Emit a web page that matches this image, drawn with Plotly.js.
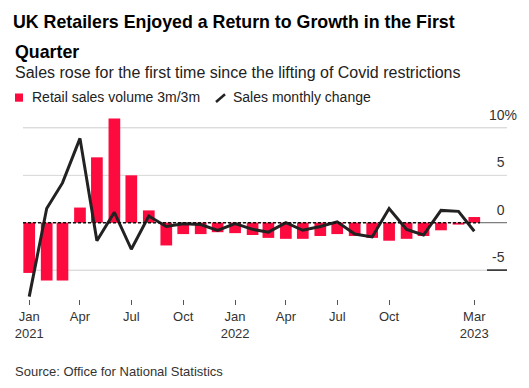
<!DOCTYPE html>
<html>
<head>
<meta charset="utf-8">
<script src="https://cdn.plot.ly/plotly-3.0.1.min.js"></script>
<style>html,body{margin:0;padding:0;background:#fff;}#chart{width:529px;height:388px;}</style>
</head>
<body>
<div id="chart"></div>
<script>
// ---- data ----
const months = [
  '2021-01-01','2021-02-01','2021-03-01','2021-04-01','2021-05-01','2021-06-01',
  '2021-07-01','2021-08-01','2021-09-01','2021-10-01','2021-11-01','2021-12-01',
  '2022-01-01','2022-02-01','2022-03-01','2022-04-01','2022-05-01','2022-06-01',
  '2022-07-01','2022-08-01','2022-09-01','2022-10-01','2022-11-01','2022-12-01',
  '2023-01-01','2023-02-01','2023-03-01'
];
const salesVolume3m3m = [
  -5.3, -6.1, -6.1, 1.6, 6.9, 11.0,
  5.0, 1.3, -2.4, -1.2, -1.2, -1.0,
  -1.1, -1.3, -1.6, -1.7, -1.7, -1.4,
  -1.2, -1.4, -1.6, -1.9, -1.7, -1.4,
  -0.8, -0.2, 0.6
];
const salesMonthlyChange = [
  -7.8, 1.5, 4.2, 8.9, -1.9, 1.1,
  -2.8, 0.7, -0.4, -0.1, -0.2, -0.8,
  -0.1, -0.7, -1.0, 0.0, -0.8, -0.4,
  0.1, -1.2, -1.5, 1.5, -0.7, -1.3,
  1.3, 1.2, -0.9
];
const xTickVals = ['2021-01-01','2021-04-01','2021-07-01','2021-10-01','2022-01-01','2022-04-01','2022-07-01','2022-10-01','2023-03-01'];
const xTickText = ['Jan<br>2021','Apr','Jul','Oct','Jan<br>2022','Apr','Jul','Oct','Mar<br>2023'];
const yTickVals = [-5, 0, 5, 10];
const yTickLabels = ['-5', '0', '5', '10'];
const seriesNames = ['Retail sales volume 3m/3m', 'Sales monthly change'];
const titleText = 'UK Retailers Enjoyed a Return to Growth in the First';
const titleText2 = 'Quarter';
const subtitleText = 'Sales rose for the first time since the lifting of Covid restrictions';
const sourceText = 'Source: Office for National Statistics';

// ---- layout helpers ----
const W = 529, H = 388;
const M = {l: 23, r: 22, t: 109, b: 89};
const PL = M.l, PR = W - M.r, PT = M.t, PB = H - M.b;
const px = x => (x - PL) / (PR - PL);
const py = y => (PB - y) / (PB - PT);
const FONT = 'Liberation Sans, Arial, sans-serif';
const RED = '#fd0a3f';
const INK = '#222222';

const yTickText = yTickLabels.map((t, i) =>
  yTickVals[i] === 10 ? t + '%' : t + "<span style='color:rgba(0,0,0,0)'>%</span>");

const traces = [
  {
    type: 'bar', x: months, y: salesVolume3m3m, name: seriesNames[0],
    marker: {color: RED, line: {width: 0}}, hoverinfo: 'x+y'
  },
  {
    type: 'scatter', mode: 'lines', x: months, y: salesMonthlyChange, name: seriesNames[1],
    line: {color: INK, width: 3}, hoverinfo: 'x+y'
  }
];

const annText = (text, x, y, size, color, extra) => Object.assign({
  text: text, xref: 'paper', yref: 'paper', x: px(x), y: py(y),
  xanchor: 'left', yanchor: 'middle', showarrow: false,
  font: {family: FONT, size: size, color: color}
}, extra || {});

// horizontal gridlines at the non-zero y ticks
const gridShapes = yTickVals.filter(v => v !== 0).map(v => ({
  type: 'line', xref: 'paper', yref: 'y', x0: 0, x1: 1, y0: v, y1: v,
  line: {color: '#dcdcdc', width: 1}, layer: 'below'
}));

const layout = {
  width: W, height: H,
  margin: M,
  paper_bgcolor: '#ffffff', plot_bgcolor: '#ffffff',
  showlegend: false,
  bargap: 0.26,
  title: {
    text: titleText,
    xref: 'container', yref: 'container',
    x: 13 / W, xanchor: 'left',
    y: 1 - 22 / H, yanchor: 'middle',
    font: {family: FONT, size: 17.8, color: '#000000', weight: 700}
  },
  xaxis: {
    type: 'date',
    range: ['2020-12-21', '2023-04-28'],
    tickmode: 'array', tickvals: xTickVals, ticktext: xTickText,
    ticks: 'outside', ticklen: 5, tickwidth: 1, tickcolor: '#555',
    showgrid: false, zeroline: false, showline: false,
    tickfont: {family: FONT, size: 13, color: '#333'}
  },
  yaxis: {
    range: [-8.05, 12],
    side: 'right',
    tickmode: 'array', tickvals: yTickVals, ticktext: yTickText,
    ticks: '', ticklabelposition: 'inside', ticklabeloverflow: 'allow',
    ticklabelstandoff: -13, ticklabelshift: -13,
    showgrid: true, gridcolor: '#dcdcdc', gridwidth: 1,
    zeroline: false, showline: false,
    tickfont: {family: FONT, size: 14, color: '#333'}
  },
  shapes: gridShapes.concat([
    {type: 'line', xref: 'paper', yref: 'y', x0: 0, x1: px(480), y0: 0, y1: 0,
     line: {color: '#111', width: 1.5, dash: '3px,2px'}, layer: 'above'},
    {type: 'line', xref: 'paper', yref: 'y', x0: px(480), x1: 1, y0: 0, y1: 0,
     line: {color: '#666', width: 1}, layer: 'above'},
    {type: 'line', xref: 'paper', yref: 'y', x0: px(487), x1: 1, y0: -5, y1: -5,
     line: {color: '#222', width: 1.5}, layer: 'above'},
    // legend icons
    {type: 'rect', xref: 'paper', yref: 'paper', x0: px(15), x1: px(23), y0: py(101.7), y1: py(93.5),
     fillcolor: RED, line: {width: 0}},
    {type: 'line', xref: 'paper', yref: 'paper', x0: px(216), x1: px(225), y0: py(102), y1: py(94.3),
     line: {color: INK, width: 2.5}}
  ]),
  annotations: [
    annText(titleText2, 13, 52, 17.8, '#000000', {font: {family: FONT, size: 17.8, color: '#000', weight: 700}}),
    annText(subtitleText, 13, 72, 16, '#222'),
    annText(seriesNames[0], 30, 97.5, 14, '#222'),
    annText(seriesNames[1], 231, 97.5, 14, '#222'),
    annText(sourceText, 13, 371, 13, '#333')
  ]
};

Plotly.newPlot('chart', traces, layout, {displayModeBar: false, staticPlot: true});
</script>
</body>
</html>
